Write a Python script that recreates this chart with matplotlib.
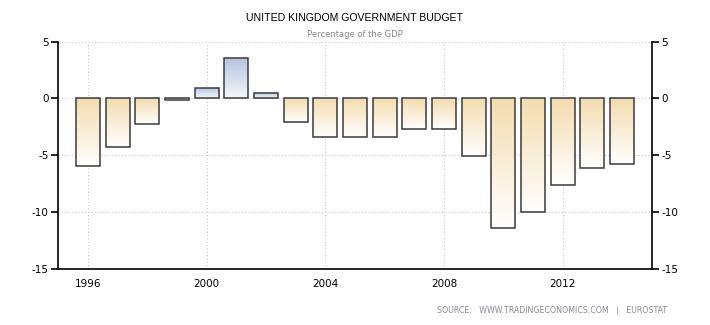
import numpy as np
import matplotlib
matplotlib.use("Agg")
import matplotlib.pyplot as plt
from matplotlib.colors import LinearSegmentedColormap

# UK government budget, % of GDP
years = [1996, 1997, 1998, 1999, 2000, 2001, 2002, 2003, 2004, 2005,
         2006, 2007, 2008, 2009, 2010, 2011, 2012, 2013, 2014]
values = [-5.9, -4.3, -2.2, -0.1, 0.9, 3.6, 0.5, -2.1, -3.4, -3.4,
          -3.4, -2.7, -2.7, -5.1, -11.4, -10.0, -7.6, -6.1, -5.8]
xticks = [1996, 2000, 2004, 2008, 2012]
yticks = [-15, -10, -5, 0, 5]

neg_cmap = LinearSegmentedColormap.from_list("neg", ["#ffffff", "#f4dcae"])
pos_cmap = LinearSegmentedColormap.from_list("pos", ["#f4f6fb", "#b3c3de"])

plt.rcParams['font.family'] = ['DejaVu Sans']
plt.rcParams['axes.unicode_minus'] = False

fig = plt.figure(figsize=(7.1, 3.25), dpi=100)
ax = fig.add_axes([0.0821, 0.1723, 0.8358, 0.6995])

bars = ax.bar(years, values, width=0.8, facecolor="none",
              edgecolor="#3a3a3a", linewidth=1.1, zorder=3)

grad = np.linspace(0, 1, 256).reshape(-1, 1)
for b, v in zip(bars, values):
    x0, y0 = b.get_x(), b.get_y()
    w, h = b.get_width(), b.get_height()
    cmap = pos_cmap if v > 0 else neg_cmap
    im = ax.imshow(grad, cmap=cmap, origin="lower", aspect="auto",
                   extent=[x0, x0 + w, min(y0, y0 + h), max(y0, y0 + h)],
                   zorder=2)
    im.set_clip_path(b)

ax.set_xlim(1995, 2015)
ax.set_ylim(-15, 5)
ax.set_xticks(xticks)
ax.set_yticks(yticks)
ax.grid(True, color="#c8c8c8", linestyle=(0, (1, 2)), linewidth=0.8, zorder=0)
ax.set_axisbelow(True)

ax.spines["top"].set_visible(False)
for s in ["left", "right", "bottom"]:
    ax.spines[s].set_color("black")
    ax.spines[s].set_linewidth(1.2)

ax.tick_params(axis="y", left=True, right=True, labelleft=True, labelright=True,
               length=5, width=1.2, pad=2, labelsize=7.5, labelcolor="black")
ax.tick_params(axis="x", length=0, pad=7, labelsize=7.5, labelcolor="black")

fig.text(0.5, 0.945, "UNITED KINGDOM GOVERNMENT BUDGET", ha="center", va="center",
         fontsize=7.6, color="black", family=["Liberation Sans", "DejaVu Sans"])
fig.text(0.5, 0.895, "Percentage of the GDP", ha="center", va="center",
         fontsize=6, color="#8a8a8a")
fig.text(0.94, 0.045, "SOURCE:   WWW.TRADINGECONOMICS.COM   |   EUROSTAT",
         ha="right", va="center", fontsize=5.7, color="#8a8a9a")

fig.savefig("out.png", dpi=100)
